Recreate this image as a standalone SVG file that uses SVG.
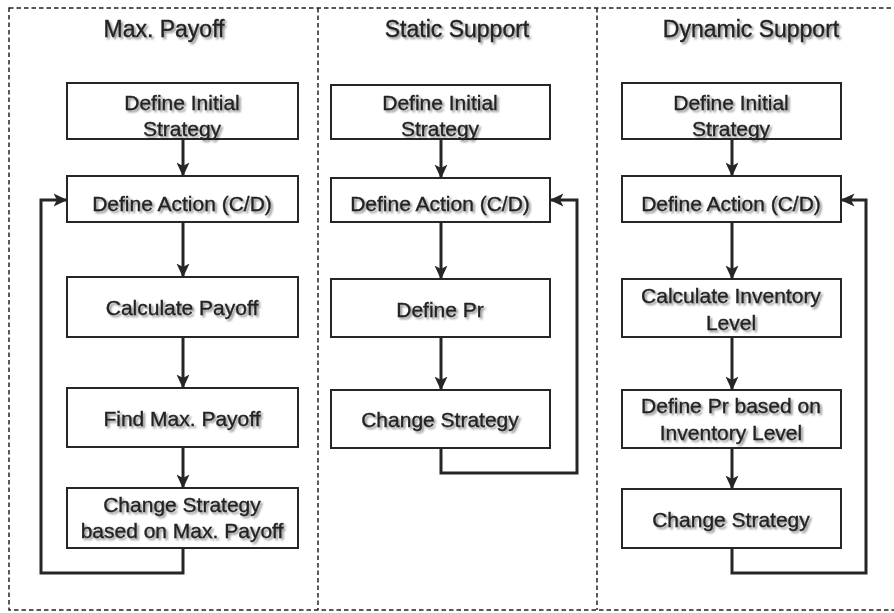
<svg xmlns="http://www.w3.org/2000/svg" width="894" height="613" viewBox="0 0 894 613">
<style>
  .frame{fill:none;stroke:#222;stroke-width:1.5;stroke-dasharray:4.5 3}
  .box{fill:#fff;stroke:#262626;stroke-width:2}
  .t{font-family:"Liberation Sans",Arial,sans-serif;font-size:21px;fill:#222;stroke:#222;stroke-width:0.35;text-anchor:middle;filter:url(#sh)}
  .title{font-family:"Liberation Sans",Arial,sans-serif;font-size:23px;fill:#222;stroke:#222;stroke-width:0.35;text-anchor:middle;filter:url(#sh)}
  .c{fill:none;stroke:#262626;stroke-width:3}
  .a{marker-end:url(#arr)}
</style>
<defs>
  <filter id="sh" x="-10%" y="-30%" width="130%" height="170%">
    <feGaussianBlur in="SourceAlpha" stdDeviation="1.3"/>
    <feOffset dx="1.5" dy="2" result="b"/>
    <feFlood flood-color="#000" flood-opacity="0.45"/>
    <feComposite in2="b" operator="in"/>
    <feMerge><feMergeNode/><feMergeNode in="SourceGraphic"/></feMerge>
  </filter>
  <marker id="arr" viewBox="0 0 14 14" markerWidth="14" markerHeight="14" refX="13.5" refY="7" orient="auto" markerUnits="userSpaceOnUse">
    <path d="M0,0.5 L14,7 L0,13.5 L3.5,7 z" fill="#262626"/>
  </marker>
</defs>

<g id="frames">
  <rect class="frame" x="9" y="8" width="900" height="602"/>
  <line class="frame" x1="318" y1="8" x2="318" y2="610"/>
  <line class="frame" x1="597" y1="8" x2="597" y2="610"/>
</g>

<g id="titles">
  <text class="title" x="164" y="37">Max. Payoff</text>
  <text class="title" x="457" y="37">Static Support</text>
  <text class="title" x="751" y="37">Dynamic Support</text>
</g>

<g id="connectors">
  <!-- Max. Payoff -->
  <line class="c a" x1="183" y1="139" x2="183" y2="176"/>
  <line class="c a" x1="183" y1="222" x2="183" y2="277"/>
  <line class="c a" x1="183" y1="337" x2="183" y2="388"/>
  <line class="c a" x1="183" y1="447" x2="183" y2="488"/>
  <polyline class="c a" points="183,548 183,573 41,573 41,200 67,200"/>
  <!-- Static Support -->
  <line class="c a" x1="441" y1="139" x2="441" y2="178"/>
  <line class="c a" x1="441" y1="222" x2="441" y2="279"/>
  <line class="c a" x1="441" y1="337" x2="441" y2="390"/>
  <polyline class="c a" points="441,448 441,473 577,473 577,200 550,200"/>
  <!-- Dynamic Support -->
  <line class="c a" x1="732" y1="139" x2="732" y2="176"/>
  <line class="c a" x1="732" y1="222" x2="732" y2="279"/>
  <line class="c a" x1="732" y1="337" x2="732" y2="390"/>
  <line class="c a" x1="732" y1="448" x2="732" y2="489"/>
  <polyline class="c a" points="732,548 732,573 866,573 866,200 841,200"/>
</g>

<g id="mp-init"><rect class="box" x="67" y="83" width="231" height="56"/>
  <text class="t" x="182" y="110">Define Initial</text><text class="t" x="182" y="136">Strategy</text></g>
<g id="mp-action"><rect class="box" x="67" y="176" width="231" height="46"/>
  <text class="t" x="182" y="211">Define Action (C/D)</text></g>
<g id="mp-calc"><rect class="box" x="67" y="277" width="231" height="60"/>
  <text class="t" x="182" y="315">Calculate Payoff</text></g>
<g id="mp-find"><rect class="box" x="67" y="388" width="231" height="59"/>
  <text class="t" x="182" y="426">Find Max. Payoff</text></g>
<g id="mp-change"><rect class="box" x="67" y="488" width="231" height="60"/>
  <text class="t" x="182" y="512">Change Strategy</text><text class="t" x="182" y="538">based on Max. Payoff</text></g>

<g id="ss-init"><rect class="box" x="331" y="85" width="219" height="54"/>
  <text class="t" x="440" y="110">Define Initial</text><text class="t" x="440" y="136">Strategy</text></g>
<g id="ss-action"><rect class="box" x="331" y="178" width="219" height="44"/>
  <text class="t" x="440" y="211">Define Action (C/D)</text></g>
<g id="ss-pr"><rect class="box" x="331" y="279" width="219" height="58"/>
  <text class="t" x="440" y="317">Define Pr</text></g>
<g id="ss-change"><rect class="box" x="331" y="390" width="219" height="58"/>
  <text class="t" x="440" y="427">Change Strategy</text></g>

<g id="ds-init"><rect class="box" x="622" y="83" width="219" height="56"/>
  <text class="t" x="731" y="110">Define Initial</text><text class="t" x="731" y="136">Strategy</text></g>
<g id="ds-action"><rect class="box" x="622" y="176" width="219" height="46"/>
  <text class="t" x="731" y="211">Define Action (C/D)</text></g>
<g id="ds-inv"><rect class="box" x="622" y="279" width="219" height="58"/>
  <text class="t" x="731" y="303">Calculate Inventory</text><text class="t" x="731" y="330">Level</text></g>
<g id="ds-pr"><rect class="box" x="622" y="390" width="219" height="58"/>
  <text class="t" x="731" y="413">Define Pr based on</text><text class="t" x="731" y="440">Inventory Level</text></g>
<g id="ds-change"><rect class="box" x="622" y="489" width="219" height="59"/>
  <text class="t" x="731" y="527">Change Strategy</text></g>
</svg>
